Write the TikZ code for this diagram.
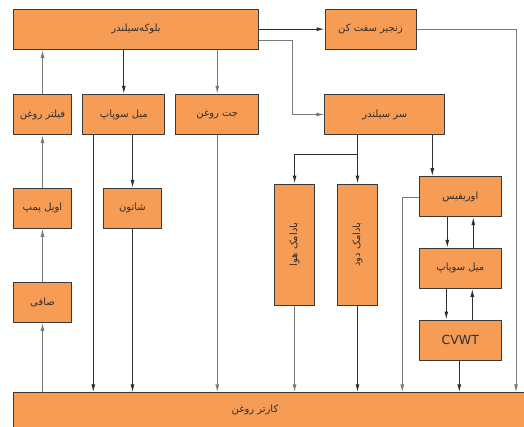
\documentclass[tikz,border=0pt]{standalone}
\usepackage{fontspec}
\usetikzlibrary{arrows.meta}
\TeXXeTstate=1
\newfontfamily\arabicfont[Script=Arabic]{DejaVu Sans}
\newfontfamily\latinsans{DejaVu Sans}
\definecolor{boxfill}{HTML}{F79C55}
\definecolor{boxline}{HTML}{3A3A3A}
\definecolor{txt}{HTML}{2E2E2E}
\definecolor{lgray}{HTML}{7A7A7A}
\definecolor{dgray}{HTML}{2E2E2E}
\newcommand{\fa}[1]{{\arabicfont\beginR #1\endR}}
\begin{document}
\begin{tikzpicture}[x=1pt,y=-1pt,
  box/.style={draw=boxline,fill=boxfill,line width=1pt,inner sep=0pt,text=txt,font=\arabicfont\fontsize{10}{12}\selectfont},
  conn/.style={line width=1pt,draw=lgray,-{Latex[length=8pt,width=4pt]}},
  dconn/.style={line width=1pt,draw=dgray,-{Latex[length=8pt,width=4pt]}},
  vtext/.style={rotate=90,text=txt,font=\arabicfont\fontsize{10}{12}\selectfont}]
\useasboundingbox (0,0) rectangle (524,426);
% boxes
\node[box,minimum width=245.4pt,minimum height=40.3pt] (block) at (136,29.2) {\fa{بلوکه‌سیلندر}};
\node[box,minimum width=91pt,minimum height=40.3pt] (zanjir) at (370.5,29.2) {\fa{زنجیر سفت کن}};
\node[box,minimum width=58.4pt,minimum height=40.3pt] (filter) at (42.5,114.5) {\fa{فیلتر روغن}};
\node[box,minimum width=82.3pt,minimum height=40.3pt] (mil) at (123.8,114.5) {\fa{میل سوپاپ}};
\node[box,minimum width=82.7pt,minimum height=40.3pt] (jet) at (217.3,114.5) {\fa{جت روغن}};
\node[box,minimum width=119.7pt,minimum height=40.3pt] (sar) at (384.8,114.5) {\fa{سر سیلندر}};
\node[box,minimum width=58.4pt,minimum height=40pt] (pump) at (42.5,208.3) {\fa{اویل پمپ}};
\node[box,minimum width=58.4pt,minimum height=40pt] (shatun) at (132.5,208.3) {\fa{شاتون}};
\node[box,minimum width=58.4pt,minimum height=40pt] (safi) at (42.5,302.3) {\fa{صافی}};
\node[box,minimum width=39.3pt,minimum height=121pt] (hava) at (294.6,244.5) {};
\node[vtext] (havatext) at (hava) {\fa{بادامک هوا}};
\node[box,minimum width=39.6pt,minimum height=121pt] (dud) at (357.5,244.5) {};
\node[vtext] (dudtext) at (dud) {\fa{بادامک دود}};
\node[box,minimum width=82pt,minimum height=40pt] (orif) at (460.3,196.7) {\fa{اوریفیس}};
\node[box,minimum width=82pt,minimum height=40pt] (mil2) at (460.3,268.3) {\fa{میل سوپاپ}};
\node[box,minimum width=82pt,minimum height=40pt,font=\latinsans\fontsize{12.5}{14}\selectfont] (cvwt) at (460.3,340) {CVWT};
\begin{scope}
\clip (0,0) rectangle (524,426);
\node[box,minimum width=540pt,minimum height=50pt,anchor=north west] (pan) at (13.3,392.3) {};
\end{scope}
\node[text=txt,font=\arabicfont\fontsize{10}{12}\selectfont] (pantext) at (255,410) {\fa{کارتر روغن}};
% helper coordinates
\coordinate (b2) at (258.7,40.7);
\coordinate (bend) at (292,0);
\coordinate (rx) at (516,0);
\coordinate (m1) at (93.3,0);
\coordinate (split) at (357.5,154.3);
\coordinate (o1) at (432.3,0);
\coordinate (ol) at (402.3,0);
% connectors
\draw[dconn] (block.east) -- (zanjir.west);
\draw[conn] (zanjir.east) -| (rx |- pan.north);
\draw[conn] (b2) -| (bend |- sar.west) -- (sar.west);
\draw[dconn] (block.south -| mil.north) -- (mil.north);
\draw[conn] (block.south -| jet.north) -- (jet.north);
\draw[conn] (filter.north) -- (filter.north |- block.south);
\draw[conn] (pump.north) -- (filter.south);
\draw[conn] (safi.north) -- (pump.south);
\draw[conn] (safi.south |- pan.north) -- (safi.south);
\draw[dconn] (m1 |- mil.south) -- (m1 |- pan.north);
\draw[dconn] (mil.south -| shatun.north) -- (shatun.north);
\draw[dconn] (shatun.south) -- (shatun.south |- pan.north);
\draw[conn] (jet.south) -- (jet.south |- pan.north);
\draw[dconn] (sar.south -| dud.north) -- (dud.north);
\draw[dconn] (split) -| (hava.north);
\draw[conn] (hava.south) -- (hava.south |- pan.north);
\draw[dconn] (dud.south) -- (dud.south |- pan.north);
\draw[dconn] (o1 |- sar.south) -- (o1 |- orif.north);
\draw[conn] (orif.west |- 0,197.3) -| (ol |- pan.north);
\draw[dconn] ([xshift=-13pt]orif.south) -- ([xshift=-13pt]mil2.north);
\draw[dconn] ([xshift=13pt]mil2.north) -- ([xshift=13pt]orif.south);
\draw[dconn] ([xshift=-14pt]mil2.south) -- ([xshift=-14pt]cvwt.north);
\draw[dconn] ([xshift=12pt]cvwt.north) -- ([xshift=12pt]mil2.south);
\draw[dconn] ([xshift=-1pt]cvwt.south) -- ([xshift=-1pt]cvwt.south |- pan.north);
\end{tikzpicture}
\end{document}
